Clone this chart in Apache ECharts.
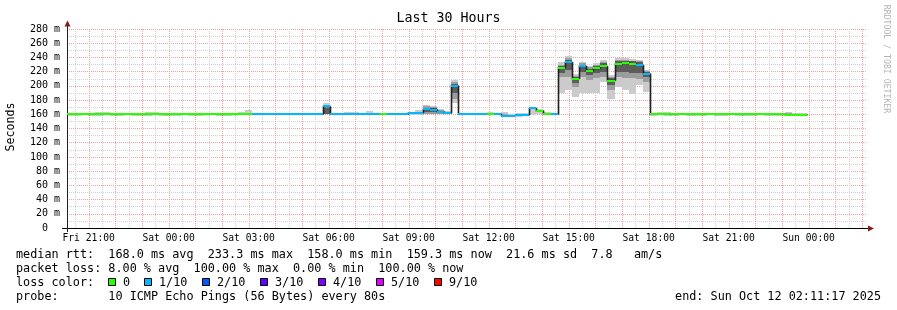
<!DOCTYPE html>
<html><head><meta charset="utf-8">
<script src="https://cdn.jsdelivr.net/npm/echarts@6/dist/echarts.min.js"></script>
<style>html,body{margin:0;padding:0;background:#fff}#c{width:897px;height:310px}</style>
</head><body><div id="c"></div>
<script>
// ---- time frame (hours since Fri 00:00) ----
const START_H = 20 + 11/60 + 17/3600;   // Fri 20:11:17
const END_H = START_H + 30;             // Sun 02:11:17
const BIN_MIN = 16;                     // consolidated step (12 x 80 s)

// ---- axis ticks ----
const tickHours  = [21, 24, 27, 30, 33, 36, 39, 42, 45, 48];
const tickLabels = ['Fri 21:00','Sat 00:00','Sat 03:00','Sat 06:00','Sat 09:00','Sat 12:00','Sat 15:00','Sat 18:00','Sat 21:00','Sun 00:00'];

// ---- median rtt per 16-min bin (ms) ----
const median = [
 159.8,159.9,160.0,159.8,159.9,160.0,159.9,159.8,160.0,159.9,159.8,159.9,160.0,159.9,159.8,159.9,160.0,159.8,159.9,159.9,160.0,159.8,159.9,159.9,160.0,160.1,
 160.2,160.1,160.2,160.1,160.0,160.1,160.2,160.1,160.0,160.1,
 171.0,
 160.1,160.0,160.1,160.2,160.1,160.0,160.1,
 160.0,
 160.1,160.0,160.1,
 162.0,162.2,
 167.0,166.5,163.5,161.5,200.0,
 160.1,160.0,160.1,160.0,
 160.0,
 160.1,
 158.2,158.0,158.3,
 159.0,168.5,165.0,160.0,160.1,
 225.5,233.3,210.0,228.0,221.0,224.5,227.5,207.5,231.0,232.5,231.0,229.0,217.0,
 159.9,160.0,159.9,159.8,160.0,159.9,159.8,159.9,160.0,159.8,159.9,160.0,159.9,159.8,159.9,160.0,159.8,159.9,159.7,159.6,159.5,159.3
];
// ---- lost pings out of 10 per bin ----
const loss = [
 0,0,0,0,0,0,0,0,0,0,0,0,0,0,0,0,0,0,0,0,0,0,0,0,0,0,
 1,1,1,1,1,1,1,1,1,1,
 1,
 1,1,1,1,1,1,1,
 0,
 1,1,1,1,1,1,1,1,1,
 1,
 1,1,1,1,
 0,
 1,1,1,1,1,1,
 0,0,
 1,
 0,1,0,1,0,0,0,0,0,0,0,1,1,
 0,0,0,0,0,0,0,0,0,0,0,0,0,0,0,0,0,0,0,0,0,0
];
// ---- smoke (outer ping spread) per bin ----
const smokeHi = [
 161,161,161,161,163.5,163.5,161,162.5,161,162.5,161,163,163,161,162.5,161,161,162.5,162.5,162.5,162.5,161,161,161,163,166,
 161,162.5,161,162.5,161,162.5,161,162,161,161,
 175.5,
 161,161,163,163,161,165,161,
 161,
 161.5,161,161,163,165.5,173,171.7,167.5,165,208,
 161,161,161,161,
 163.5,161,163.5,160,161.5,161.5,170,167.5,163.5,161,
 233,242,216.7,233.5,228.5,232.6,236.4,215.3,238.7,238.7,237.6,237,222.3,
 161,163,163,161,161,161,161,162.5,161,161.5,161,162.5,161,161,161,162,161,162,161,163,161,162
];
const smokeLo = [
 159.5,159.5,159.5,159.5,159.5,159.5,159.5,159.5,159.5,159.5,159.5,159.5,159.5,159.5,159.5,159.5,159.5,159.5,159.5,159.5,159.5,159.5,159.5,159.5,159.5,159.5,
 159.5,159.5,159.5,159.5,159.5,159.5,159.5,159.5,159.5,159.5,
 160,
 159.5,159.5,159.5,159.5,159.5,159.5,159.5,
 159.5,
 159.5,159.5,159.5,159.5,159.5,160,160,160,160,175.5,
 159.5,159.5,159.5,159.5,
 159.5,159.5,158,158,158,158.5,159,160,159.5,159.5,
 190,194,185,190,189.5,189.5,205,181,199,194,188,201,192,
 159.5,159.5,159.5,159.5,159.5,159.5,159.5,159.5,159.5,159.5,159.5,159.5,159.5,159.5,159.5,159.5,159.5,159.5,159.5,159.5,159.5,159.5
];
// ---- inner smoke bands: [bin, low, high] ----
const midBands = [
 [36,160,173.5],[50,161,171],[51,161,170],[52,160.5,166],[54,182,205],
 [69,213,230],[70,213,239],[71,199,214.5],[72,213,231.5],[73,208,226],[74,210.6,230],[75,213,234],
 [76,194,213],[77,213,236.5],[78,211,236.5],[79,210.6,235.5],[80,210,235],[81,206,220.5]
];
const darkBands = [
 [36,160,168.5],[50,163,169],[51,163,168.5],[54,189.5,203],
 [69,218,228.5],[70,222,237],[71,203.6,213],[72,220,230],[73,215,224],[74,217.6,228],[75,220,231.5],
 [76,201,211],[77,220,235],[78,220,235.5],[79,217.6,234.5],[80,217.6,233],[81,213,219.5]
];

// ---- loss colour legend ----
const lossNames  = ['0','1/10','2/10','3/10','4/10','5/10','9/10'];
const lossColors = ['#26ff00','#00b8ff','#0059ff','#5e00ff','#7e00ff','#dd00ff','#ff0000'];
function lossColor(n){ return n >= 6 ? lossColors[6] : lossColors[n]; }

// ---- legend text ----
const statRtt  = 'median rtt:  168.0 ms avg  233.3 ms max  158.0 ms min  159.3 ms now  21.6 ms sd  7.8   am/s';
const statLoss = 'packet loss: 8.00 % avg  100.00 % max  0.00 % min  100.00 % now';
const probeTxt = 'probe:       10 ICMP Echo Pings (56 Bytes) every 80s';
const endTxt   = 'end: Sun Oct 12 02:11:17 2025';

// ---- grid line positions ----
const hourLines = []; for (let h = 21; h <= 50; h++) hourLines.push([h]);
const halfLines = []; for (let h = 20; h <= 49; h++) halfLines.push([h + 0.5]);

const FONT = 'DejaVu Sans Mono';
const G = {left: 67, top: 29, width: 800, height: 199};
const RED_GRID = '#f5a0a0';
const GRAY_GRID = '#d2d2d2';

function binStart(i){ return START_H + i * BIN_MIN / 60; }
function band(i, lo, hi){ return [binStart(i), binStart(i + 1), lo, hi]; }

const lightData = median.map((m, i) => band(i, smokeLo[i], smokeHi[i]));
const midData = midBands.map(b => band(b[0], b[1], b[2]));
const darkData = darkBands.map(b => band(b[0], b[1], b[2]));
const medData = median.map((m, i) => [binStart(i), binStart(i + 1), m, loss[i], i > 0 ? median[i - 1] : m]);

function rectRender(color){
  return function(params, api){
    const a = api.coord([api.value(0), api.value(3)]);
    const b = api.coord([api.value(1), api.value(2)]);
    const x0 = Math.round(a[0]), x1 = Math.round(b[0]);
    const y0 = Math.round(a[1]), y1 = Math.round(b[1]);
    return {type: 'rect', shape: {x: x0, y: y0, width: x1 - x0, height: Math.max(0, y1 - y0)}, style: {fill: color}};
  };
}
function gridRender(color){
  return function(params, api){
    const x = Math.round(api.coord([api.value(0), 0])[0]) + 0.5;
    const cs = params.coordSys;
    return {type: 'line', shape: {x1: x, y1: cs.y, x2: x, y2: cs.y + cs.height},
            style: {stroke: color, lineWidth: 1, lineDash: [1, 1]}};
  };
}

const series = [
  {type: 'custom', z: 1, silent: true, data: halfLines, renderItem: gridRender(GRAY_GRID), encode: {x: 0}},
  {type: 'custom', z: 1, silent: true, data: hourLines, renderItem: gridRender(RED_GRID), encode: {x: 0}},
  {type: 'custom', z: 3, silent: true, clip: true, data: lightData, renderItem: rectRender('#cbcbcb'), encode: {x: [0, 1], y: [2, 3]}},
  {type: 'custom', z: 4, silent: true, clip: true, data: midData, renderItem: rectRender('#9c9c9c'), encode: {x: [0, 1], y: [2, 3]}},
  {type: 'custom', z: 5, silent: true, clip: true, data: darkData, renderItem: rectRender('#5c5c5c'), encode: {x: [0, 1], y: [2, 3]}},
  {type: 'custom', z: 6, silent: true, clip: true, data: medData, encode: {x: [0, 1], y: 2},
   renderItem: function(params, api){
     const a = api.coord([api.value(0), api.value(2)]);
     const b = api.coord([api.value(1), api.value(2)]);
     const p = api.coord([api.value(0), api.value(4)]);
     const x0 = Math.round(a[0]) + 0.5, x1 = Math.round(b[0]) + 0.5;
     return {type: 'polyline', shape: {points: [[x0, p[1]], [x0, a[1]], [x1, a[1]]]},
             style: {stroke: '#202020', lineWidth: 1.6, fill: null}};
   }},
  {type: 'custom', z: 7, silent: true, clip: true, data: medData, encode: {x: [0, 1], y: 2},
   renderItem: function(params, api){
     const a = api.coord([api.value(0), api.value(2)]);
     const b = api.coord([api.value(1), api.value(2)]);
     const x0 = Math.round(a[0]), x1 = Math.round(b[0]);
     const y = Math.round(a[1]) - 1;
     return {type: 'rect', shape: {x: x0, y: y, width: x1 - x0, height: 2}, style: {fill: lossColor(api.value(3))}};
   }}
];

// ---- graphic: legend texts, axis arrows, side labels ----
const graphics = [];
function txt(x, y, s, opt){
  opt = opt || {};
  graphics.push({type: 'text', x: x, y: y, rotation: opt.rot || 0, silent: true, z: 10,
    style: {text: s, fontFamily: FONT, fontSize: opt.size || 11.8, fill: opt.color || '#000',
            align: opt.align || 'left', verticalAlign: 'middle',
            textAlign: opt.align || 'left', textVerticalAlign: 'middle'}});
}
txt(16, 254.5, statRtt);
txt(16, 268.5, statLoss);
txt(16, 282.5, 'loss color:');
let lx = 108.5;
lossNames.forEach((n, i) => {
  graphics.push({type: 'rect', silent: true, z: 10, shape: {x: lx, y: 278.5, width: 7, height: 7},
                 style: {fill: lossColors[i], stroke: '#000', lineWidth: 1}});
  txt(lx + 14.5, 282.5, n);
  lx += 14.5 + n.length * 7.1 + 14.8;
  lx = Math.round(lx - 0.5) + 0.5;
});
txt(16, 296.5, probeTxt);
txt(881, 296.5, endTxt, {align: 'right'});
txt(11, 127, 'Seconds', {rot: Math.PI / 2, align: 'center', size: 11.6});
txt(886, 59, 'RRDTOOL / TOBI OETIKER', {rot: -Math.PI / 2, align: 'center', size: 8.2, color: '#b4b4b4'});
// axis extensions and arrows
graphics.push({type: 'line', silent: true, z: 10, shape: {x1: 67.5, y1: 29, x2: 67.5, y2: 25}, style: {stroke: '#202020', lineWidth: 1}});
graphics.push({type: 'line', silent: true, z: 10, shape: {x1: 67.5, y1: 228, x2: 67.5, y2: 232}, style: {stroke: '#202020', lineWidth: 1}});
graphics.push({type: 'line', silent: true, z: 10, shape: {x1: 62, y1: 228.5, x2: 67, y2: 228.5}, style: {stroke: '#000', lineWidth: 1}});
graphics.push({type: 'line', silent: true, z: 10, shape: {x1: 867, y1: 228.5, x2: 869, y2: 228.5}, style: {stroke: '#000', lineWidth: 1}});
graphics.push({type: 'polygon', silent: true, z: 11, shape: {points: [[64.5, 26.5], [70.5, 26.5], [67.5, 20.5]]}, style: {fill: '#7f1f1f'}});
graphics.push({type: 'polygon', silent: true, z: 11, shape: {points: [[868, 225.5], [868, 231.5], [874, 228.5]]}, style: {fill: '#7f1f1f'}});

const option = {
  animation: false,
  backgroundColor: '#fff',
  title: {text: 'Last 30 Hours', left: 'center', top: 12, padding: 0,
          textStyle: {fontFamily: FONT, fontSize: 13.3, fontWeight: 'normal', color: '#000'}},
  grid: Object.assign({containLabel: false, outerBoundsMode: 'none'}, G),
  xAxis: {
    type: 'value', min: START_H, max: END_H,
    axisLine: {show: true, lineStyle: {color: '#000', width: 1}},
    axisTick: {show: false},
    splitLine: {show: false},
    axisLabel: {customValues: tickHours, margin: 5, fontFamily: FONT, fontSize: 9.7, color: '#000',
                formatter: v => tickLabels[tickHours.indexOf(v)] || ''}
  },
  yAxis: {
    type: 'value', min: 0, max: 280, interval: 20,
    axisLine: {show: true, lineStyle: {color: '#202020', width: 1}},
    axisTick: {show: false},
    minorTick: {show: false, splitNumber: 2},
    splitLine: {show: true, lineStyle: {color: RED_GRID, type: [1, 1], width: 1}},
    minorSplitLine: {show: true, lineStyle: {color: GRAY_GRID, type: [1, 1], width: 1}},
    axisLabel: {margin: 7, fontFamily: FONT, fontSize: 10, color: '#000',
                formatter: v => v === 0 ? '0\u00a0\u00a0' : v + ' m'}
  },
  graphic: {elements: graphics},
  series: series
};
const chart = echarts.init(document.getElementById('c'));
chart.setOption(option);
</script>
</body></html>
